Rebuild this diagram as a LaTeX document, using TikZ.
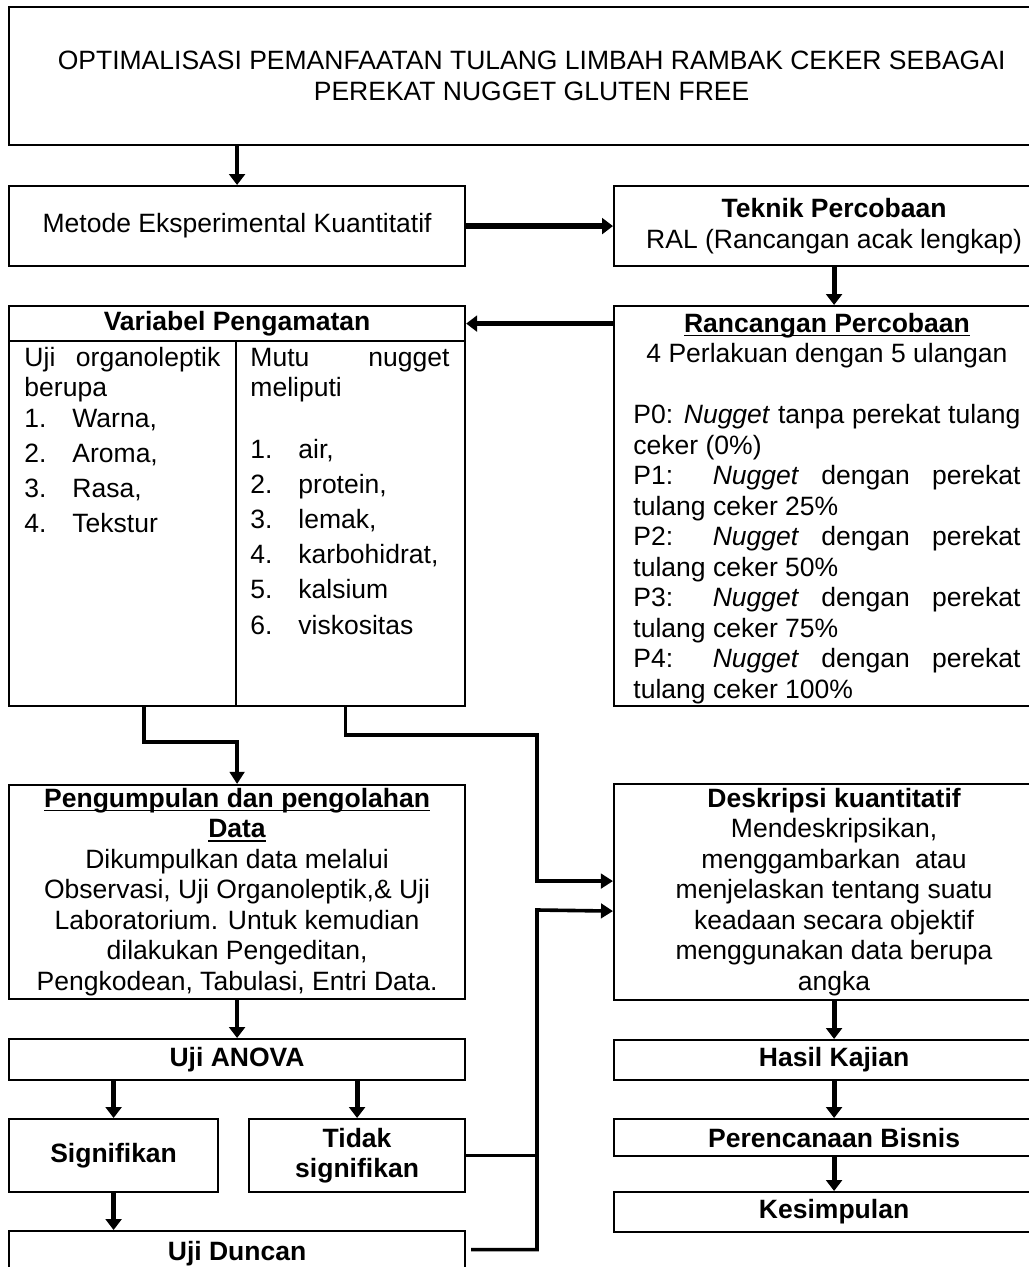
\documentclass[tikz,border=0pt]{standalone}
\usepackage{fontspec}
\setmainfont{Liberation Sans}
\usetikzlibrary{arrows.meta}

\newcommand{\px}{0.415pt}
\newcommand{\txt}{\fontsize{11pt}{12.65pt}\selectfont}
\newlength\ulw
\newcommand{\ulbf}[1]{\settowidth\ulw{\textbf{#1}}\textbf{#1}\llap{\rule[-1.6pt]{\ulw}{0.7pt}}}
\newcommand{\itm}[2]{\makebox[19.9pt][l]{#1.}#2}
\newcommand{\rw}{160.6pt}

\begin{document}
\begin{tikzpicture}[x=\px, y=-\px, font=\txt]
\tikzstyle{blk}=[draw, line width=0.9pt, inner sep=0pt, anchor=north west, align=center]
\tikzstyle{txtonly}=[inner sep=0pt, anchor=north west, align=left]
\tikzstyle{arr}=[line width=2pt, -{Triangle[length=4.5pt,width=6.5pt]}]
\tikzstyle{lnk}=[line width=1.5pt]
\tikzstyle{lnkarr}=[lnk, -{Triangle[length=5pt,width=6pt]}]
\useasboundingbox (0,0) rectangle (1029,1267);

% top
\node[blk, minimum width=1045*\px, minimum height=138*\px] (title) at (8,6) {OPTIMALISASI PEMANFAATAN TULANG LIMBAH RAMBAK CEKER SEBAGAI\\ PEREKAT NUGGET GLUTEN FREE};
\node[blk, minimum width=456*\px, minimum height=80*\px] (metode) at (8,185) {Metode Eksperimental Kuantitatif};
\node[blk, minimum width=440*\px, minimum height=80*\px] (teknik) at (613,185) {\textbf{Teknik Percobaan}\\ RAL (Rancangan acak lengkap)};

% variabel + rancangan
\node[blk, minimum width=456*\px, minimum height=35*\px] (varhead) at (8,305) {\textbf{Variabel Pengamatan}};
\node[blk, minimum width=227*\px, minimum height=365*\px] (varleft) at (8,340) {};
\node[blk, minimum width=229*\px, minimum height=365*\px] (varright) at (235,340) {};
\node[txtonly] (organo) at (24,344.6) {\strut\makebox[81.3pt][s]{Uji organoleptik}\\
  berupa\\
  \itm{1}{Warna,}\\[1.9pt]
  \itm{2}{Aroma,}\\[1.9pt]
  \itm{3}{Rasa,}\\[1.9pt]
  \itm{4}{Tekstur}};
\node[txtonly] (mutu) at (250,344.6) {\strut\makebox[82.6pt][s]{Mutu nugget}\\
  meliputi\\[13pt]
  \itm{1}{air,}\\[1.9pt]
  \itm{2}{protein,}\\[1.9pt]
  \itm{3}{lemak,}\\[1.9pt]
  \itm{4}{karbohidrat,}\\[1.9pt]
  \itm{5}{kalsium}\\[1.9pt]
  \itm{6}{viskositas}};
\node[blk, minimum width=440*\px, minimum height=400*\px] (rancangan) at (613,305) {};
\node[txtonly] (perlakuan) at (633,310.6) {\strut\makebox[\rw][c]{\ulbf{Rancangan Percobaan}}\\
  \makebox[\rw][c]{4 Perlakuan dengan 5 ulangan}\\
  \mbox{}\\
  \makebox[\rw][s]{P0: \textit{Nugget} tanpa perekat tulang}\\
  ceker (0\%)\\
  \makebox[\rw][s]{P1: \textit{Nugget} dengan perekat}\\
  tulang ceker 25\%\\
  \makebox[\rw][s]{P2: \textit{Nugget} dengan perekat}\\
  tulang ceker 50\%\\
  \makebox[\rw][s]{P3: \textit{Nugget} dengan perekat}\\
  tulang ceker 75\%\\
  \makebox[\rw][s]{P4: \textit{Nugget} dengan perekat}\\
  tulang ceker 100\%};

% data
\node[blk, minimum width=456*\px, minimum height=214*\px] (pengumpulan) at (8,784) {\ulbf{Pengumpulan dan pengolahan}\\ \ulbf{Data}\\
  Dikumpulkan data melalui\\ Observasi, Uji Organoleptik,\& Uji\\ Laboratorium. Untuk kemudian\\
  dilakukan Pengeditan,\\ Pengkodean, Tabulasi, Entri Data.};
\node[blk, minimum width=440*\px, minimum height=216*\px] (deskripsi) at (613,783) {\textbf{Deskripsi kuantitatif}\\ Mendeskripsikan,\\
  menggambarkan\ \ atau\\ menjelaskan tentang suatu\\ keadaan secara objektif\\ menggunakan data berupa\\ angka};
\node[blk, minimum width=456*\px, minimum height=41*\px] (anova) at (8,1038) {\textbf{Uji ANOVA}};
\node[blk, minimum width=209*\px, minimum height=73*\px] (signif) at (8,1118) {\textbf{Signifikan}};
\node[blk, minimum width=216*\px, minimum height=73*\px] (tidak) at (248,1118) {\textbf{Tidak}\\ \textbf{signifikan}};
\node[blk, minimum width=456*\px, minimum height=45*\px] (duncan) at (8,1230) {\textbf{Uji Duncan}};
\node[blk, minimum width=440*\px, minimum height=40*\px] (hasil) at (613,1039) {\textbf{Hasil Kajian}};
\node[blk, minimum width=440*\px, minimum height=37*\px] (bisnis) at (613,1118) {\textbf{Perencanaan Bisnis}};
\node[blk, minimum width=440*\px, minimum height=40*\px] (kesimpulan) at (613,1191) {\textbf{Kesimpulan}};

\coordinate (jb) at (537,735);
\coordinate (jd) at (537,910);

% arrows
\draw[arr] (title.south -| metode.north) -- (metode.north);
\draw[arr, line width=2.6pt] (metode.east) -- (teknik.west);
\draw[arr] (teknik.south) -- (rancangan.north);
\draw[arr] (rancangan.west |- varhead.east) -- (varhead.east);
\draw[lnkarr] ([xshift=21.5*\px]varleft.south) -- ++(0,35) -| (pengumpulan.north);
\draw[lnkarr] ([xshift=-5*\px]varright.south) |- (jb) |- ([yshift=11*\px]deskripsi.west);
\draw[lnk] (tidak.east) -- (tidak.east -| jd);
\draw[lnkarr] ([xshift=5*\px,yshift=4*\px]duncan.east) -| (jd) -- ([yshift=-19*\px]deskripsi.west);
\draw[arr] (pengumpulan.south) -- (anova.north);
\draw[arr] (anova.south -| signif.north) -- (signif.north);
\draw[arr] (anova.south -| tidak.north) -- (tidak.north);
\draw[arr] (signif.south) -- (signif.south |- duncan.north);
\draw[arr] (deskripsi.south) -- (hasil.north);
\draw[arr] (hasil.south) -- (bisnis.north);
\draw[arr] (bisnis.south) -- (kesimpulan.north);
\end{tikzpicture}
\end{document}
